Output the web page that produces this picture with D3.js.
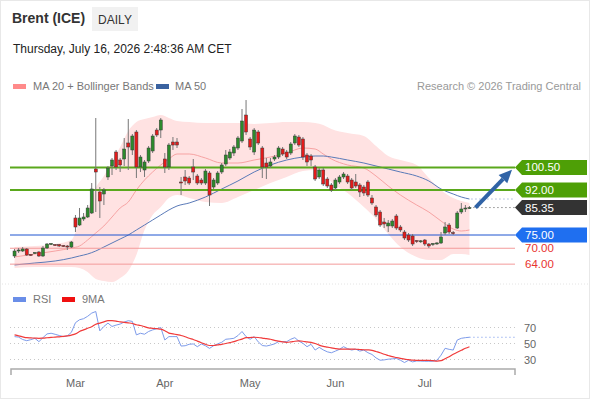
<!DOCTYPE html>
<html><head><meta charset="utf-8">
<script src="https://cdn.jsdelivr.net/npm/d3@7"></script>
<style>
body{margin:0;background:#fff;}
svg{font-family:"Liberation Sans",Arial,sans-serif;}
</style>
</head><body>
<svg id="c" width="590" height="400"></svg>
<script>
// ---------- DATA ----------
const holidays = ["2026-04-03"];
const startDate = "2026-02-09", endDate = "2026-07-16";

const open  = [67.08,68.96,68.96,69.72,67.65,68.0,68.58,67.08,70.09,71.4,
71.4,71.4,71.05,70.85,70.47,81.42,78.77,81.04,81.79,83.30,
99.91,91.23,90.47,96.89,101.04,106.32,103.30,103.68,109.72,107.08,
113.87,100.66,99.53,102.92,106.70,114.62,114.62,103.68,100.66,110.09,
110.09,95.00,96.89,96.51,100.66,97.26,95.75,94.62,98.40,93.11,
94.62,98.77,101.79,104.06,105.94,107.83,110.47,120.28,111.23,106.32,
113.87,107.83,102.17,101.04,103.68,104.43,107.45,106.32,105.94,109.72,
111.98,111.23,105.19,104.81,100.66,96.89,99.53,96.13,93.87,92.74,
95.00,96.89,97.26,95.75,95.00,93.87,93.11,95.00,88.96,85.57,
83.68,79.91,78.40,78.40,82.17,78.02,76.13,75.00,74.62,72.9,
72.55,73.11,71.60,71.4,71.8,71.98,75.75,78.77,75.9,77.64,
83.68,84.81,85.19];
const high  = [69.72,70.09,70.47,70.09,67.83,68.58,68.96,70.85,71.98,71.98,
71.6,71.6,71.23,71.23,72.74,82.55,85.19,83.30,86.32,94.62,
119.15,93.11,92.74,101.04,104.06,107.08,104.06,111.60,118.77,113.11,
114.62,105.19,103.30,108.58,113.11,115.38,119.15,105.94,109.72,111.98,
111.60,96.89,99.53,97.26,103.68,98.02,96.51,99.91,99.15,96.51,
99.15,102.17,107.08,107.45,108.96,112.36,122.55,125.94,111.98,115.38,
114.62,108.58,104.06,104.06,105.19,108.58,108.21,107.08,110.09,113.11,
112.74,111.98,105.94,105.57,101.42,100.28,100.28,96.89,94.62,96.51,
97.64,98.77,98.02,96.51,98.02,94.62,93.87,95.75,90.09,86.32,
84.43,81.42,80.66,81.04,82.92,78.77,76.89,75.75,75.38,73.11,
73.11,73.49,71.98,71.98,72.36,76.13,79.91,79.53,76.51,84.06,
87.08,86.32,85.94];
const low   = [66.32,68.21,68.58,67.08,67.08,67.83,66.70,66.70,69.72,71.23,
70.85,70.47,70.47,69.34,70.09,76.13,78.40,80.28,81.42,82.92,
83.68,81.42,86.32,95.75,97.64,99.53,98.77,101.04,99.53,105.19,
96.51,98.77,96.89,102.17,105.94,111.98,111.60,98.40,99.53,107.08,
107.83,90.09,93.87,93.87,95.75,93.87,93.87,93.87,85.94,92.36,
93.87,98.02,101.04,103.30,104.81,107.08,109.72,112.74,107.08,105.19,
108.96,96.51,96.13,100.28,102.92,103.68,104.81,103.68,105.19,108.96,
108.21,103.30,101.04,101.04,95.38,96.13,93.49,92.74,91.23,91.98,
94.25,96.13,94.25,91.98,92.74,89.34,89.72,89.34,86.32,81.79,
78.02,77.64,76.13,77.64,76.89,76.13,73.11,72.36,70.85,71.98,
71.98,70.85,70.09,70.85,71.23,71.60,75.00,75.38,75.00,77.26,
82.92,83.68,84.81];
const close = [68.96,69.34,69.72,67.45,67.30,68.4,67.08,70.09,71.60,71.8,
71.05,70.85,70.65,70.47,72.36,78.02,81.42,81.79,85.19,92.36,
98.77,87.83,91.98,100.28,103.30,100.66,101.42,107.45,108.21,112.36,
100.66,104.43,102.55,107.83,112.36,112.74,118.40,100.66,108.96,108.96,
108.96,94.62,95.38,94.62,98.77,94.62,94.62,99.15,90.09,95.75,
98.40,101.42,105.19,106.32,108.21,111.60,118.02,113.87,108.21,114.62,
109.72,100.66,100.66,102.55,104.43,107.83,105.57,104.43,109.34,112.36,
108.96,104.43,102.55,103.30,96.13,99.53,94.25,93.49,91.98,95.75,
96.89,98.02,95.00,92.74,93.49,91.23,90.85,90.09,87.08,82.55,
78.77,79.15,79.53,80.28,77.64,76.89,73.87,73.11,71.60,72.55,
72.8,71.60,70.85,71.8,72.0,74.25,78.02,76.13,75.6,83.30,
84.81,85.19,85.35];

// MA / Bollinger readings (candle index -> price)
const bandIdx = [0,5,10,14,16,18,20,22,24,26,28,30,32,34,36,38,40,43,47,51,55,59,63,67,71,74,76,78,82,86,89,92,95,99,102,105,108,110,112];
const bbUpper = [70.47,70.85,71.60,73.11,79.91,84.43,92.74,97.26,102.55,108.21,
114.25,117.64,118.77,119.53,120.28,119.15,118.02,117.64,117.26,117.26,
117.26,116.89,117.26,117.64,117.64,117.26,116.51,115.00,113.49,112.36,
108.58,104.81,103.30,101.42,96.51,91.98,88.96,87.83,87.08];
const bbLower = [62.55,62.92,62.92,62.92,62.55,61.04,58.40,57.64,57.26,58.77,
61.42,67.45,76.89,82.55,85.57,88.96,90.09,88.96,87.45,87.08,
89.34,91.98,94.62,96.89,99.15,99.53,98.40,95.00,90.85,85.57,
81.04,75.38,70.47,66.70,65.57,65.57,67.83,67.83,67.45];
const ma20 = [66.70,67.83,68.96,70.09,70.85,73.11,75.75,78.40,81.79,85.19,
87.45,91.98,95.75,98.77,101.42,103.68,105.57,105.57,104.06,102.17,
102.17,103.30,104.43,105.94,107.83,107.45,105.57,103.68,101.42,100.28,
97.26,93.49,90.09,86.32,83.68,80.28,77.26,76.51,76.89];
const ma50 = [63.68,64.43,65.19,66.32,67.08,67.83,68.96,70.47,71.98,73.49,
75.00,76.89,78.77,80.66,82.55,84.43,85.94,87.08,89.34,92.36,
95.38,98.77,101.42,103.30,104.43,104.81,104.81,104.43,103.30,102.17,
101.04,99.91,98.77,97.26,95.38,92.36,90.47,89.34,88.58];

const rsi = [58.6,58,55,53.5,54.8,56.5,52.3,57.3,62,62.8,
61.5,60,58.6,59.5,64,76,79.7,81,84,88,
90,65.8,71.3,75.5,71.3,73,74.3,76.8,78.5,77.6,
60.8,62.8,61.6,65,67,68.4,70,54.4,58.6,58.6,
58.6,46.8,47.2,49,49.5,46,49.4,47.2,43.9,47.2,
49.5,51.5,55.3,55.8,56.5,59.9,65,58.6,55.3,58.6,
52,47.5,46.8,48,49.5,52.3,52.3,52.3,55.3,57.3,
53,50.2,46,49,41.8,45.2,42,39.6,38.4,40.5,
42.7,46,43.5,41.8,43,40.5,41.8,38.5,36.3,32,
29.1,29.5,30.4,30.8,31.3,29.1,26.2,29.1,27,28.2,
28,27.8,27.8,27.8,29.1,35.4,44,42.7,41.8,54.4,
56.5,57.3,57.8];
const rsiMA9 = [60.8,59.5,58.3,57.3,57,56.8,56.5,56.8,57.2,57.6,
58,58.4,58.8,59.5,60.5,62,65,67,69,71,
74,75.5,77,78.5,78.5,78,77,76.5,75.8,75,
73.4,72.5,71,69.5,69,68.5,68,66,63,62,
61,60,58.5,56.5,55,53,51,49,47.5,47.5,
48.3,49,50,51.2,52.3,54,55.5,57.3,57.5,57.8,
57.5,56.8,56,55.3,54,53,52,51.5,52,52.8,
53.2,52.8,52,51.5,50,48,46.5,45.5,44.5,43.5,
43,43,43,43,42.8,42.5,42.2,42,41.5,40,
38.5,36.5,35,33.5,32.5,31.5,30.5,29.8,29.1,29,
29,29,28.8,28.5,28,28.5,31,33.5,36.5,39,
41.5,44,46];

const levelsGreen = [100.5, 92.0];
const levelLast = 85.35;
const levelBlue = [75.0];
const levelsRed = [70.0, 64.0];
const arrowTarget = 99.6;
const rsiLevels = [70, 50, 30];
const monthLabels = ["Mar","Apr","May","Jun","Jul"];

// ---------- DATES ----------
const dates = [];
for (let d = new Date(startDate + "T00:00:00Z"); d <= new Date(endDate + "T00:00:00Z"); d.setUTCDate(d.getUTCDate() + 1)) {
  const wd = d.getUTCDay(), s = d.toISOString().slice(0, 10);
  if (wd > 0 && wd < 6 && !holidays.includes(s)) dates.push(s);
}
const candles = dates.map((d, i) => ({d, o: open[i], h: high[i], l: low[i], c: close[i]}));

// ---------- SCALES ----------
const svg = d3.select("#c");
const x = d3.scaleBand().domain(dates).range([12, 472]).padding(0.25);
const cx = d => x(d) + x.bandwidth() / 2;
const y = d3.scaleLinear().domain([64, 100.5]).range([264.15, 167.43]);
const yr = d3.scaleLinear().domain([30, 70]).range([359.5, 327.5]);
const RIGHT = 515;

// frame
svg.append("rect").attr("x", 0.5).attr("y", 0.5).attr("width", 589).attr("height", 398)
  .attr("fill", "none").attr("stroke", "#e8e8e8");

// ---------- HEADER ----------
svg.append("text").attr("x", 12).attr("y", 23).attr("font-size", 14).attr("font-weight", "bold")
  .attr("fill", "#333").text("Brent (ICE)");
svg.append("rect").attr("x", 92).attr("y", 7).attr("width", 46).attr("height", 24).attr("fill", "#f1f1f1");
svg.append("text").attr("x", 115).attr("y", 23.5).attr("text-anchor", "middle").attr("font-size", 12)
  .attr("fill", "#333").text("DAILY");
svg.append("text").attr("x", 13).attr("y", 52.5).attr("font-size", 12).attr("fill", "#222")
  .text("Thursday, July 16, 2026 2:48:36 AM CET");

// legend
svg.append("rect").attr("x", 13).attr("y", 84).attr("width", 13).attr("height", 5).attr("fill", "#ff8a8a");
svg.append("text").attr("x", 33).attr("y", 90).attr("font-size", 11).attr("fill", "#777").text("MA 20 + Bollinger Bands");
svg.append("rect").attr("x", 156).attr("y", 84).attr("width", 13).attr("height", 5).attr("fill", "#3a62a0");
svg.append("text").attr("x", 175).attr("y", 90).attr("font-size", 11).attr("fill", "#777").text("MA 50");
svg.append("text").attr("x", 581).attr("y", 90).attr("text-anchor", "end").attr("font-size", 11)
  .attr("fill", "#999").text("Research \u00a9 2026 Trading Central");

// ---------- PRICE PANEL ----------
const bandData = bandIdx.map((i, k) => ({d: dates[i], u: bbUpper[k], lo: bbLower[k], m20: ma20[k], m50: ma50[k]}));
svg.append("path").datum(bandData)
  .attr("d", d3.area().x(p => cx(p.d)).y0(p => y(p.lo)).y1(p => y(p.u)).curve(d3.curveMonotoneX))
  .attr("fill", "#ffe2e2");
svg.append("path").datum(bandData)
  .attr("d", d3.line().x(p => cx(p.d)).y(p => y(p.m20)).curve(d3.curveMonotoneX))
  .attr("fill", "none").attr("stroke", "#f7a3a3").attr("stroke-width", 1);
svg.append("path").datum(bandData)
  .attr("d", d3.line().x(p => cx(p.d)).y(p => y(p.m50)).curve(d3.curveMonotoneX))
  .attr("fill", "none").attr("stroke", "#5a7ab8").attr("stroke-width", 1);

const lastD = dates[dates.length - 1];
// MA50 dotted extension
svg.append("line").attr("x1", cx(lastD) + 2).attr("x2", RIGHT).attr("y1", y(ma50[ma50.length - 1])).attr("y2", y(ma50[ma50.length - 1]))
  .attr("stroke", "#7a95c8").attr("stroke-dasharray", "1,3");

// horizontal levels
levelsGreen.forEach(v => svg.append("line").attr("x1", 10).attr("x2", RIGHT).attr("y1", y(v)).attr("y2", y(v))
  .attr("stroke", "#5aa81c").attr("stroke-width", 2));
levelBlue.forEach(v => svg.append("line").attr("x1", 10).attr("x2", RIGHT).attr("y1", y(v)).attr("y2", y(v))
  .attr("stroke", "#1e55d0").attr("stroke-width", 1));
levelsRed.forEach(v => svg.append("line").attr("x1", 10).attr("x2", RIGHT).attr("y1", y(v)).attr("y2", y(v))
  .attr("stroke", "#f39a9a").attr("stroke-width", 1));
svg.append("line").attr("x1", cx(lastD) + 4).attr("x2", RIGHT).attr("y1", y(levelLast)).attr("y2", y(levelLast))
  .attr("stroke", "#555").attr("stroke-dasharray", "1,3");

// candles
const cg = svg.append("g");
cg.selectAll("line.w").data(candles).join("line")
  .attr("x1", p => cx(p.d)).attr("x2", p => cx(p.d)).attr("y1", p => y(p.h)).attr("y2", p => y(p.l))
  .attr("stroke", "#777").attr("stroke-width", 1);
cg.selectAll("rect").data(candles).join("rect")
  .attr("x", p => x(p.d)).attr("width", x.bandwidth())
  .attr("y", p => y(Math.max(p.o, p.c)))
  .attr("height", p => Math.max(1, Math.abs(y(p.o) - y(p.c))))
  .attr("fill", p => p.c >= p.o ? "#2c8a2c" : "#e41b1b")
  .attr("stroke", "#3a3a3a").attr("stroke-width", 0.5);

// arrow
const ax1 = cx(lastD) + 6, ay1 = y(levelLast), ax2 = 512, ay2 = y(arrowTarget);
const ang = Math.atan2(ay2 - ay1, ax2 - ax1);
const hl = 13, hw = 6;
const bx = ax2 - hl * Math.cos(ang), by = ay2 - hl * Math.sin(ang);
svg.append("line").attr("x1", ax1).attr("y1", ay1).attr("x2", bx).attr("y2", by)
  .attr("stroke", "#3063a6").attr("stroke-width", 4);
svg.append("polygon").attr("fill", "#3063a6").attr("points", [
  [ax2, ay2],
  [bx + hw * Math.sin(ang), by - hw * Math.cos(ang)],
  [bx - hw * Math.sin(ang), by + hw * Math.cos(ang)]
].map(p => p.join(",")).join(" "));

// labels
function tag(v, fill) {
  const yy = y(v);
  svg.append("polygon").attr("fill", fill)
    .attr("points", `${RIGHT},${yy} ${RIGHT + 7},${yy - 7.5} 587,${yy - 7.5} 587,${yy + 7.5} ${RIGHT + 7},${yy + 7.5}`);
  svg.append("text").attr("x", 525).attr("y", yy + 4).attr("font-size", 11.5).attr("fill", "#fff").text(v.toFixed(2));
}
levelsGreen.forEach(v => tag(v, "#4e9f06"));
tag(levelLast, "#333333");
levelBlue.forEach(v => tag(v, "#1f6ff0"));
levelsRed.forEach(v => svg.append("text").attr("x", 525).attr("y", y(v) + 4).attr("font-size", 11.5)
  .attr("fill", "#e8332f").text(v.toFixed(2)));

// separator
svg.append("line").attr("x1", 2).attr("x2", 588).attr("y1", 284).attr("y2", 284)
  .attr("stroke", "#e4e4e4").attr("stroke-dasharray", "1,2");

// ---------- RSI PANEL ----------
svg.append("rect").attr("x", 13).attr("y", 297).attr("width", 13).attr("height", 5).attr("fill", "#6a8ee8");
svg.append("text").attr("x", 33).attr("y", 303).attr("font-size", 11).attr("fill", "#777").text("RSI");
svg.append("rect").attr("x", 62).attr("y", 297).attr("width", 13).attr("height", 5).attr("fill", "#f01010");
svg.append("text").attr("x", 82).attr("y", 303).attr("font-size", 11).attr("fill", "#777").text("9MA");

rsiLevels.forEach(v => {
  svg.append("line").attr("x1", 10).attr("x2", RIGHT).attr("y1", yr(v)).attr("y2", yr(v))
    .attr("stroke", "#c8c8c8").attr("stroke-dasharray", "1,3");
  svg.append("text").attr("x", 524).attr("y", yr(v) + 4).attr("font-size", 11).attr("fill", "#666").text(v);
});
svg.append("path").datum(rsi)
  .attr("d", d3.line().x((v, i) => cx(dates[i])).y(v => yr(v)))
  .attr("fill", "none").attr("stroke", "#7d9bea").attr("stroke-width", 1);
svg.append("line").attr("x1", cx(lastD)).attr("x2", RIGHT).attr("y1", yr(rsi[rsi.length - 1])).attr("y2", yr(rsi[rsi.length - 1]))
  .attr("stroke", "#6a8ee8").attr("stroke-dasharray", "1,3");
svg.append("path").datum(rsiMA9)
  .attr("d", d3.line().x((v, i) => cx(dates[i])).y(v => yr(v)).curve(d3.curveMonotoneX))
  .attr("fill", "none").attr("stroke", "#f03a3a").attr("stroke-width", 1.2);

// ---------- X AXIS ----------
svg.append("path").attr("d", `M11,375V369H${RIGHT}V375`).attr("fill", "none").attr("stroke", "#aaa").attr("stroke-width", 1.5);
const monthStarts = monthLabels.map(m => dates.find(d => d3.utcFormat("%b")(new Date(d + "T00:00:00Z")) === m));
const axis = d3.axisBottom(x).tickValues(monthStarts).tickSize(0).tickPadding(10)
  .tickFormat(d => d3.utcFormat("%b")(new Date(d + "T00:00:00Z")));
const ag = svg.append("g").attr("transform", "translate(0,369)").call(axis);
ag.select(".domain").remove();
ag.selectAll("text").attr("font-size", 11).attr("fill", "#666").attr("font-family", "Liberation Sans, Arial, sans-serif");
</script>
</body></html>
